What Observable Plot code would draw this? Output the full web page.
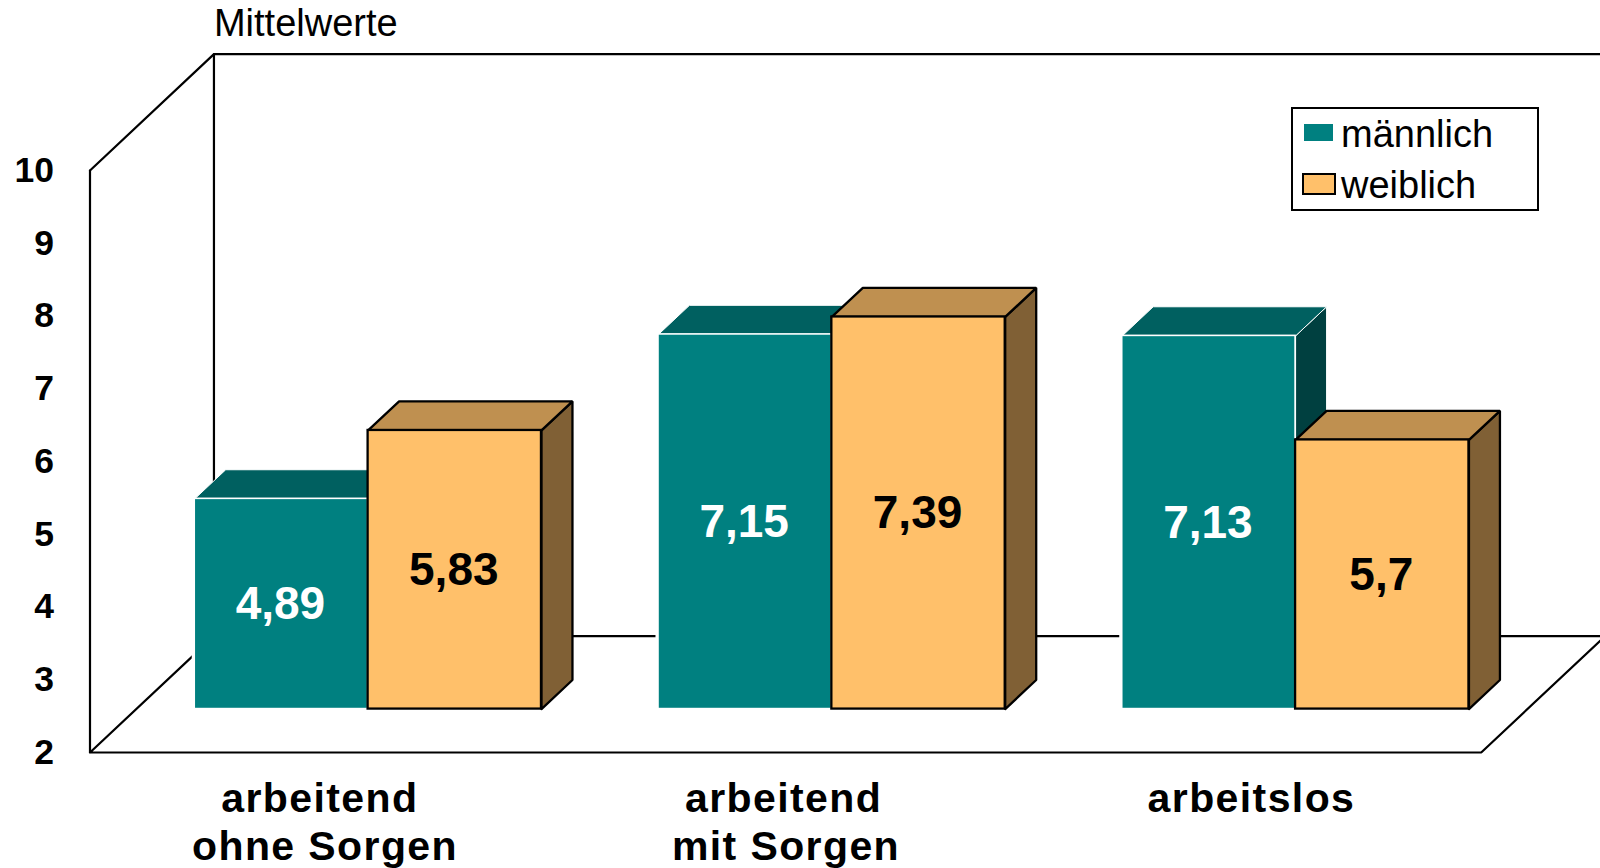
<!DOCTYPE html>
<html lang="de">
<head>
<meta charset="utf-8">
<script src="https://cdn.jsdelivr.net/npm/d3@7"></script>
<script src="https://cdn.jsdelivr.net/npm/@observablehq/plot@0.6"></script>
<style>
  html, body { margin: 0; padding: 0; background: #fff; overflow: hidden; }
  #chart { position: relative; width: 1600px; height: 868px; font-family: "Liberation Sans", Arial, sans-serif; }
  #chart svg { display: block; }
  .kategorie text { letter-spacing: 1.4px; }
  #legende { position: absolute; left: 1291px; top: 107px; width: 244px; height: 100px; border: 2px solid #000; background: #fff; font-size: 38px; color: #000; }
  #legende .eintrag { position: absolute; left: 48px; line-height: 38px; white-space: nowrap; }
  #legende .muster { position: absolute; box-sizing: border-box; }
</style>
</head>
<body>
<div id="chart"></div>
<script>
// Mittelwerte nach Beschäftigungsstatus und Geschlecht
const kategorien = ["arbeitend\nohne Sorgen", "arbeitend\nmit Sorgen", "arbeitslos"];
const gruppen = ["männlich", "weiblich"];
const maennlich = [4.89, 7.15, 7.13];
const weiblich = [5.83, 7.39, 5.7];
const yTicks = [2, 3, 4, 5, 6, 7, 8, 9, 10];

const farben = {
  "männlich": {front: "#008080", top: "#006060", side: "#004040", line: "#ffffff", lineWidth: 1.6, topLine: 1},
  "weiblich": {front: "#FFC06A", top: "#BF9050", side: "#806035", line: "#000000", lineWidth: 2.3, topLine: 2.3}
};

// Oblique projection: x in bar widths, depth z from 0 (front of the floor) to 1 (back wall)
const GRUPPE = 2.675, LUECKE = 0.3375;
const DX = 0.715, DY = 1.6;
const Z0 = 0.373, Z1 = 0.623;
const BASIS = 2, OBEN = 10;
const proj = (x, v, z) => ({x: x + z * DX, y: v + z * DY});

const reihen = {"männlich": maennlich, "weiblich": weiblich};
const balken = gruppen.flatMap((g, s) => reihen[g].map((wert, i) => {
  const x1 = i * GRUPPE + LUECKE + s;
  return {gruppe: g, i, wert, x1, x2: x1 + 1,
          y1: proj(x1, BASIS, Z0).y, y2: proj(x1, wert, Z0).y, xa: proj(x1, BASIS, Z0).x, xb: proj(x1 + 1, BASIS, Z0).x};
}));

const obenFlaeche = (b) => [proj(b.x1, b.wert, Z0), proj(b.x2, b.wert, Z0), proj(b.x2, b.wert, Z1), proj(b.x1, b.wert, Z1), proj(b.x1, b.wert, Z0)]
  .map((p) => ({...p, id: b.i}));
const seitenFlaeche = (b) => [proj(b.x2, BASIS, Z0), proj(b.x2, b.wert, Z0), proj(b.x2, b.wert, Z1), proj(b.x2, BASIS, Z1), proj(b.x2, BASIS, Z0)]
  .map((p) => ({...p, id: b.i}));

const BREITE = GRUPPE * kategorien.length;
const rahmen = [
  [proj(0, OBEN, 0), proj(0, BASIS, 0), proj(BREITE, BASIS, 0), proj(BREITE, BASIS, 1), proj(0, BASIS, 1), proj(0, BASIS, 0)],
  [proj(0, OBEN, 0), proj(0, OBEN, 1), proj(BREITE, OBEN, 1)],
  [proj(0, OBEN, 1), proj(0, BASIS, 1)]
].flatMap((pfad, id) => pfad.map((p) => ({...p, id})));

// Category labels, one text per line; each line sits slightly off the group centre
const VERSATZ = [[-0.012, 0.018], [-0.012, 0.002], [0.012]];
const zeilen = kategorien.flatMap((k, i) => k.split("\n").map((text, n) => ({
  text, n, x: (i + 0.5) * GRUPPE + VERSATZ[i][n]
})));

const balkenMarks = gruppen.flatMap((g) => {
  const f = farben[g];
  const daten = balken.filter((b) => b.gruppe === g);
  const rand = {stroke: f.line, strokeWidth: f.topLine, strokeLinejoin: "miter"};
  return [
    // white halo that interrupts the floor lines beside the teal bars
    ...(g === "männlich" ? [Plot.rect(daten, {x1: "xa", x2: "xb", y1: "y1", y2: "y2", fill: "#fff", stroke: "#fff", strokeWidth: 5})] : []),
    Plot.line(daten.flatMap(seitenFlaeche), {x: "x", y: "y", z: "id", fill: f.side, ...rand}),
    Plot.line(daten.flatMap(obenFlaeche), {x: "x", y: "y", z: "id", fill: f.top, ...rand}),
    Plot.rect(daten, {x1: "xa", x2: "xb", y1: "y1", y2: "y2", fill: f.front, stroke: f.line, strokeWidth: f.lineWidth}),
    Plot.text(daten, {
      x: (b) => (b.xa + b.xb) / 2,
      y: (b) => (b.y1 + b.y2) / 2,
      text: (b) => String(b.wert).replace(".", ","),
      fill: g === "männlich" ? "#fff" : "#000",
      fontSize: 46, fontWeight: "bold",
      dx: -1, dy: 0.5
    })
  ];
});

const zeilenMark = (n, dy) => Plot.text(zeilen.filter((z) => z.n === n), {
  x: "x",
  y: () => BASIS,
  text: "text",
  dy,
  fontSize: 41,
  fontWeight: "bold",
  className: "kategorie"
});

const chart = Plot.plot({
  width: 1600,
  height: 868,
  marginLeft: 89.5,
  marginRight: 0,
  marginTop: 0,
  marginBottom: 0,
  style: {fontFamily: "'Liberation Sans', Arial, sans-serif", background: "#fff", color: "#000"},
  x: {domain: [0, 8.713], range: [89.5, 1600], axis: null},
  y: {domain: [BASIS, OBEN], range: [752, 170], axis: null},
  marks: [
    Plot.line(rahmen, {x: "x", y: "y", z: "id", stroke: "#000", strokeWidth: 2.2, strokeLinejoin: "miter"}),
    ...balkenMarks,
    Plot.axisY({ticks: yTicks, tickSize: 0, tickPadding: 36, fontSize: 35.5, fontWeight: "bold", label: null}),
    zeilenMark(0, 46),
    zeilenMark(1, 94),
    Plot.text(["Mittelwerte"], {
      x: () => proj(0, OBEN, 1).x,
      y: () => proj(0, OBEN, 1).y,
      text: (d) => d,
      dy: -30,
      textAnchor: "start",
      fontSize: 38
    })
  ]
});

const container = document.getElementById("chart");
container.append(chart);

// Legend box over the upper right of the back wall
const legende = document.createElement("div");
legende.id = "legende";
gruppen.forEach((g, i) => {
  const muster = document.createElement("div");
  muster.className = "muster";
  muster.style.background = farben[g].front;
  if (i === 0) {
    Object.assign(muster.style, {left: "11px", top: "15px", width: "29px", height: "17px"});
  } else {
    Object.assign(muster.style, {left: "9px", top: "64px", width: "34px", height: "22px", border: "2px solid #000"});
  }
  const eintrag = document.createElement("div");
  eintrag.className = "eintrag";
  eintrag.textContent = g;
  eintrag.style.top = (i === 0 ? 6 : 57) + "px";
  legende.append(muster, eintrag);
});
container.append(legende);
</script>
</body>
</html>
